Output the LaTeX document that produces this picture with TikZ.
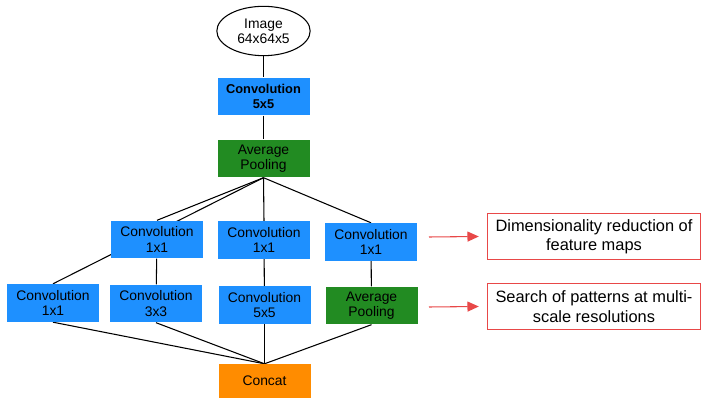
\documentclass[tikz,border=0pt]{standalone}
\usepackage{fontspec}
\setmainfont{Liberation Sans}
\usetikzlibrary{arrows.meta, backgrounds, shapes.geometric}

\definecolor{convblue}{RGB}{30,144,255}
\definecolor{poolgreen}{RGB}{34,139,34}
\definecolor{concatorange}{RGB}{255,140,0}
\definecolor{notered}{RGB}{232,72,72}

\begin{document}
\begin{tikzpicture}[x=0.75pt, y=-0.75pt,
                    every path/.style={line width=0.8pt},
                    conv/.style={rectangle, fill=convblue, minimum width=69pt, minimum height=28pt,
                                 inner sep=0pt, align=center, font=\fontsize{10.4}{11.5}\selectfont},
                    pool/.style={conv, fill=poolgreen},
                    note/.style={rectangle, draw=notered, line width=0.8pt, minimum width=160pt,
                                 minimum height=35pt, inner sep=0pt, align=center,
                                 font=\fontsize{12.3}{14.5}\selectfont}]

\useasboundingbox (0,0) rectangle (701,398);

% Nodes
\node[ellipse, draw, minimum width=70pt, minimum height=37pt, inner sep=0pt, align=center,
      font=\fontsize{10.4}{11.5}\selectfont] (img) at (263.5,31) {Image\\64x64x5};
\node[conv, font=\fontsize{9.6}{11.5}\selectfont\bfseries] (conv0) at (263.5,96.5) {Convolution\\5x5};
\node[pool] (pool0) at (263.5,158.5) {Average\\Pooling};

\node[conv] (redA) at (157,239.5) {Convolution\\1x1};
\node[conv] (redB) at (264,240)   {Convolution\\1x1};
\node[conv] (redC) at (371,242)   {Convolution\\1x1};

\node[conv] (conv1) at (53,303)     {Convolution\\1x1};
\node[conv] (conv3) at (156,303.5)  {Convolution\\3x3};
\node[conv] (conv5) at (264.5,305)  {Convolution\\5x5};
\node[pool] (pool1) at (371.5,305.5) {Average\\Pooling};

\node[conv, fill=concatorange, minimum height=25pt] (concat) at (264.5,381) {Concat};

\node[note] (noteA) at (594,236.5) {Dimensionality reduction of\\feature maps};
\node[note] (noteB) at (594,306.5) {Search of patterns at multi-\\scale resolutions};

\coordinate (arrA) at (429,237);
\coordinate (arrB) at (429,307);

% Edges
\begin{scope}[on background layer]
\draw (img) -- (conv0);
\draw (conv0) -- (pool0);
\draw (pool0.south) -- (redA.north);
\draw (pool0.south) -- (conv1.north);
\draw (pool0.south) -- (redB.north);
\draw (pool0.south) -- (redC.north);
\draw (redA) -- (conv3);
\draw (redB) -- (conv5);
\draw (redC) -- (pool1);
\draw (conv1.south) -- (concat.north);
\draw (conv3.south) -- (concat.north);
\draw (conv5.south) -- (concat.north);
\draw (pool1.south) -- (concat.north);
\end{scope}

\draw[notered, -{Triangle[length=8.5pt, width=7.5pt]}] (arrA) -- ([xshift=-6pt]noteA.west);
\draw[notered, -{Triangle[length=8.5pt, width=7.5pt]}] (arrB) -- ([xshift=-6pt]noteB.west);

\end{tikzpicture}
\end{document}
